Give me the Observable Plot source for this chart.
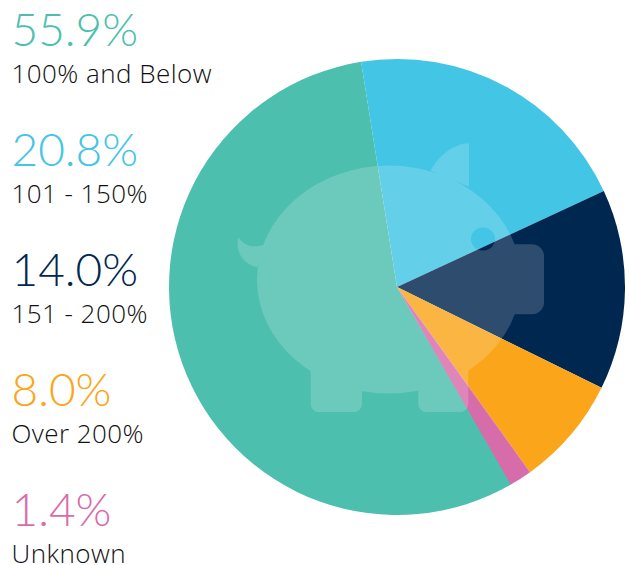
<!DOCTYPE html>
<html><head><meta charset="utf-8">
<script src="https://cdn.jsdelivr.net/npm/d3@7"></script>
<script src="https://cdn.jsdelivr.net/npm/@observablehq/plot@0.6"></script>
<style>html,body{margin:0;padding:0;background:#fff}svg{display:block}</style>
</head><body><div id="chart"></div>
<script>
const categories = ["100% and Below", "101 - 150%", "151 - 200%", "Over 200%", "Unknown"];
const shares = [55.9, 20.6, 14.2, 7.8, 1.6];
const valueLabels = ["55.9%", "20.8%", "14.0%", "8.0%", "1.4%"];
const colors = ["#4CBFAE", "#43C5E5", "#00274F", "#FBA51A", "#D76CAB"];
const rows = categories.map((category, i) => ({category, share: shares[i], value: valueLabels[i], row: i}));

const cx = 397, cy = 287, radius = 228;
const deg = Math.PI / 180;

function pieRender(index, scales, values) {
  const g = d3.create("svg:g").attr("transform", `translate(${cx},${cy})`);
  const arc = d3.arc().innerRadius(0).outerRadius(radius);
  for (const i of index) {
    g.append("path")
      .attr("d", arc({startAngle: values.x1[i], endAngle: values.x2[i]}))
      .attr("fill", values.fill[i]);
  }
  return g.node();
}

const pigPath = [
  "M257,279.5A132,114 0 1 1 521,279.5A132,114 0 1 1 257,279.5Z",
  "M430.7,170.7C438,157 452,144 469,143.3L469,186.7Z",
  "M310.7,365L362,365L362,404A8,8 0 0 1 354,412L318.7,412A8,8 0 0 1 310.7,404Z",
  "M418.3,365L468.3,365L468.3,404A8,8 0 0 1 460.3,412L426.3,412A8,8 0 0 1 418.3,404Z",
  "M500,244.3L532,244.3A12,12 0 0 1 544,256.3L544,302.3A12,12 0 0 1 532,314.3L500,314.3Z",
  "M238.3,237.3C246,248 254,247 263.5,245L257.3,267.3C243,264 235,252 238.3,237.3Z",
  "M471,239A12,11.5 0 1 0 495,239A12,11.5 0 1 0 471,239Z"
].join("");

function pig() {
  return d3.create("svg:path").attr("d", pigPath).attr("fill", "#fff").attr("fill-opacity", 0.18).node();
}

const chart = Plot.plot({
  width: 629, height: 565,
  margin: 0,
  style: {background: "#fff", overflow: "visible"},
  x: {type: "linear", domain: [0, 100.1], range: [-210.3 * deg, 150.06 * deg], axis: null},
  y: {type: "linear", domain: [0, 4], range: [31, 511], axis: null},
  color: {domain: categories, range: colors},
  marks: [
    Plot.barX(rows, {x: "share", fill: "category", render: pieRender}),
    pig,
    Plot.text(rows, {y: "row", text: "value", frameAnchor: "left", dx: 11, textAnchor: "start",
      fill: "category", fontSize: 46, fontWeight: 300, fontFamily: "Lato, sans-serif"}),
    Plot.text(rows, {y: "row", text: "category", frameAnchor: "left", dx: 11, dy: 43.5, textAnchor: "start",
      fill: "#111", fontSize: 26, fontWeight: 300, fontFamily: "'Open Sans', sans-serif",
      style: {letterSpacing: "0.4px"}})
  ]
});
chart.querySelectorAll("text").forEach(t => { if (t.textContent.match(/[A-Za-z]|- /)) t.style.letterSpacing = "0.45px"; });
document.getElementById("chart").append(chart);
</script></body></html>
